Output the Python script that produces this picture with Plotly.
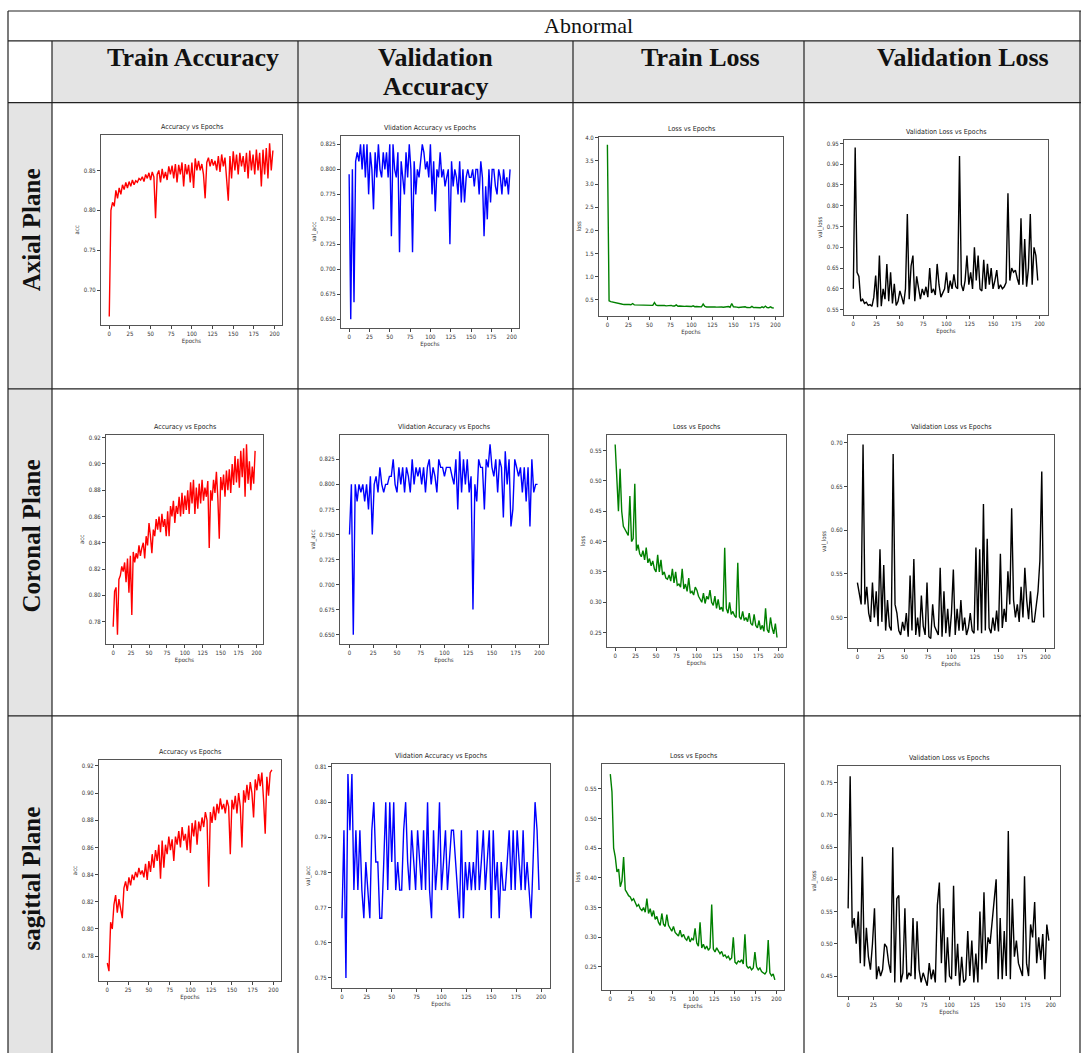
import plotly.graph_objects as go

W, H = 1081, 1053

epochs = list(range(0, 200, 2))

# ---------------- data ----------------
axial_train_acc = [
    0.667, 0.800, 0.810, 0.805, 0.825, 0.815, 0.828, 0.820, 0.832, 0.826,
    0.835, 0.828, 0.836, 0.830, 0.838, 0.832, 0.837, 0.835, 0.840, 0.838,
    0.842, 0.836, 0.845, 0.840, 0.847, 0.838, 0.848, 0.842, 0.790, 0.845,
    0.850, 0.835, 0.852, 0.840, 0.848, 0.838, 0.855, 0.845, 0.856, 0.840,
    0.858, 0.835, 0.857, 0.845, 0.860, 0.830, 0.858, 0.845, 0.857, 0.835,
    0.860, 0.828, 0.865, 0.850, 0.862, 0.850, 0.858, 0.845, 0.815, 0.860,
    0.866, 0.855, 0.864, 0.856, 0.862, 0.850, 0.868, 0.848, 0.870, 0.855,
    0.866, 0.840, 0.812, 0.868, 0.840, 0.874, 0.850, 0.870, 0.845, 0.872,
    0.855, 0.868, 0.848, 0.872, 0.840, 0.875, 0.850, 0.870, 0.845, 0.876,
    0.850, 0.872, 0.830, 0.876, 0.845, 0.878, 0.840, 0.884, 0.850, 0.875,
]
axial_val_acc = [
    0.795, 0.650, 0.800, 0.667, 0.808, 0.817, 0.808, 0.825, 0.800, 0.825,
    0.792, 0.825, 0.775, 0.817, 0.800, 0.760, 0.817, 0.792, 0.825, 0.800,
    0.792, 0.817, 0.800, 0.817, 0.792, 0.825, 0.733, 0.825, 0.800, 0.792,
    0.817, 0.717, 0.808, 0.792, 0.775, 0.817, 0.792, 0.825, 0.800, 0.717,
    0.808, 0.775, 0.800, 0.792, 0.808, 0.825, 0.817, 0.800, 0.808, 0.792,
    0.825, 0.775, 0.808, 0.758, 0.800, 0.792, 0.817, 0.792, 0.800, 0.783,
    0.792, 0.800, 0.725, 0.808, 0.783, 0.800, 0.792, 0.775, 0.808, 0.767,
    0.800, 0.767, 0.792, 0.800, 0.792, 0.792, 0.800, 0.783, 0.800, 0.800,
    0.775, 0.808, 0.792, 0.733, 0.783, 0.750, 0.800, 0.767, 0.800, 0.800,
    0.783, 0.775, 0.800, 0.792, 0.775, 0.800, 0.783, 0.792, 0.775, 0.800,
]
axial_train_loss = [
    3.850, 0.480, 0.460, 0.450, 0.440, 0.430, 0.425, 0.415, 0.410, 0.405,
    0.400, 0.405, 0.398, 0.400, 0.395, 0.420, 0.392, 0.390, 0.388, 0.386,
    0.385, 0.384, 0.383, 0.384, 0.382, 0.380, 0.385, 0.380, 0.440, 0.385,
    0.378, 0.380, 0.375, 0.372, 0.378, 0.370, 0.376, 0.368, 0.380, 0.366,
    0.368, 0.390, 0.362, 0.366, 0.360, 0.368, 0.358, 0.362, 0.356, 0.360,
    0.355, 0.372, 0.352, 0.356, 0.350, 0.354, 0.348, 0.410, 0.360, 0.346,
    0.348, 0.345, 0.350, 0.344, 0.346, 0.342, 0.348, 0.341, 0.344, 0.340,
    0.342, 0.339, 0.355, 0.340, 0.420, 0.350, 0.338, 0.342, 0.336, 0.340,
    0.335, 0.338, 0.350, 0.334, 0.336, 0.332, 0.360, 0.333, 0.335, 0.330,
    0.334, 0.329, 0.350, 0.330, 0.365, 0.332, 0.328, 0.350, 0.330, 0.325,
]
axial_val_loss = [
    0.600, 0.940, 0.640, 0.630, 0.570, 0.575, 0.565, 0.568, 0.560, 0.562,
    0.558, 0.580, 0.632, 0.556, 0.680, 0.558, 0.600, 0.575, 0.660, 0.570,
    0.640, 0.565, 0.612, 0.560, 0.570, 0.595, 0.580, 0.563, 0.600, 0.780,
    0.575, 0.655, 0.680, 0.570, 0.630, 0.600, 0.575, 0.600, 0.585, 0.605,
    0.580, 0.650, 0.590, 0.600, 0.585, 0.660, 0.610, 0.580, 0.590, 0.600,
    0.640, 0.590, 0.620, 0.600, 0.635, 0.605, 0.600, 0.920, 0.610, 0.595,
    0.620, 0.680, 0.610, 0.640, 0.600, 0.700, 0.620, 0.680, 0.600, 0.595,
    0.670, 0.600, 0.660, 0.610, 0.650, 0.600, 0.620, 0.645, 0.600, 0.610,
    0.600, 0.605, 0.615, 0.830, 0.620, 0.650, 0.640, 0.645, 0.625, 0.610,
    0.770, 0.610, 0.720, 0.605, 0.650, 0.780, 0.610, 0.700, 0.680, 0.620,
]
coronal_train_acc = [
    0.776, 0.803, 0.806, 0.770, 0.812, 0.815, 0.822, 0.818, 0.825, 0.810,
    0.828, 0.802, 0.830, 0.785, 0.833, 0.825, 0.832, 0.828, 0.838, 0.830,
    0.836, 0.840, 0.828, 0.845, 0.838, 0.855, 0.845, 0.832, 0.850, 0.845,
    0.858, 0.850, 0.860, 0.848, 0.862, 0.852, 0.858, 0.845, 0.864, 0.845,
    0.868, 0.860, 0.872, 0.855, 0.868, 0.862, 0.875, 0.860, 0.878, 0.862,
    0.876, 0.865, 0.880, 0.862, 0.886, 0.870, 0.888, 0.862, 0.882, 0.866,
    0.885, 0.870, 0.888, 0.872, 0.882, 0.875, 0.887, 0.836, 0.880, 0.872,
    0.888, 0.878, 0.894, 0.874, 0.843, 0.890, 0.880, 0.892, 0.875, 0.895,
    0.880, 0.896, 0.878, 0.900, 0.884, 0.906, 0.886, 0.904, 0.882, 0.910,
    0.890, 0.912, 0.875, 0.915, 0.885, 0.902, 0.880, 0.898, 0.885, 0.910,
]
coronal_val_acc = [
    0.750, 0.800, 0.650, 0.800, 0.783, 0.800, 0.792, 0.800, 0.783, 0.800,
    0.775, 0.808, 0.750, 0.800, 0.808, 0.792, 0.817, 0.800, 0.792, 0.800,
    0.800, 0.808, 0.808, 0.825, 0.800, 0.792, 0.817, 0.800, 0.817, 0.792,
    0.817, 0.808, 0.792, 0.825, 0.800, 0.817, 0.808, 0.817, 0.800, 0.817,
    0.792, 0.817, 0.825, 0.800, 0.817, 0.808, 0.792, 0.825, 0.817, 0.817,
    0.808, 0.817, 0.817, 0.817, 0.808, 0.800, 0.825, 0.775, 0.833, 0.792,
    0.825, 0.800, 0.825, 0.792, 0.808, 0.675, 0.800, 0.783, 0.825, 0.817,
    0.817, 0.775, 0.825, 0.817, 0.840, 0.817, 0.808, 0.825, 0.792, 0.825,
    0.817, 0.767, 0.833, 0.800, 0.825, 0.758, 0.775, 0.825, 0.817, 0.808,
    0.817, 0.792, 0.817, 0.783, 0.817, 0.758, 0.825, 0.792, 0.800, 0.800,
]
coronal_train_loss = [
    0.560, 0.500, 0.450, 0.520, 0.450, 0.425, 0.420, 0.415, 0.410, 0.475,
    0.400, 0.405, 0.495, 0.385, 0.395, 0.380, 0.375, 0.385, 0.370, 0.390,
    0.365, 0.372, 0.360, 0.368, 0.355, 0.350, 0.378, 0.350, 0.370, 0.345,
    0.350, 0.340, 0.338, 0.345, 0.335, 0.355, 0.332, 0.350, 0.328, 0.330,
    0.325, 0.355, 0.322, 0.330, 0.318, 0.340, 0.315, 0.318, 0.312, 0.325,
    0.320, 0.310, 0.305, 0.300, 0.315, 0.298, 0.310, 0.305, 0.320, 0.300,
    0.295, 0.310, 0.290, 0.305, 0.288, 0.292, 0.285, 0.390, 0.290, 0.282,
    0.300, 0.280, 0.285, 0.278, 0.275, 0.365, 0.276, 0.272, 0.285, 0.270,
    0.275, 0.268, 0.282, 0.265, 0.262, 0.280, 0.262, 0.258, 0.270, 0.255,
    0.262, 0.252, 0.290, 0.255, 0.250, 0.275, 0.258, 0.248, 0.265, 0.242,
]
coronal_val_loss = [
    0.540, 0.525, 0.515, 0.698, 0.515, 0.535, 0.505, 0.495, 0.540, 0.500,
    0.530, 0.490, 0.578, 0.495, 0.560, 0.485, 0.520, 0.490, 0.485, 0.687,
    0.515, 0.505, 0.485, 0.480, 0.495, 0.485, 0.505, 0.478, 0.548, 0.485,
    0.567, 0.480, 0.500, 0.478, 0.525, 0.490, 0.480, 0.540, 0.478, 0.476,
    0.515, 0.490, 0.485, 0.480, 0.557, 0.478, 0.530, 0.482, 0.510, 0.478,
    0.505, 0.555, 0.480, 0.510, 0.485, 0.520, 0.485, 0.500, 0.480, 0.488,
    0.505, 0.485, 0.482, 0.580, 0.485, 0.578, 0.482, 0.630, 0.485, 0.590,
    0.488, 0.482, 0.500, 0.485, 0.508, 0.484, 0.573, 0.488, 0.510, 0.495,
    0.553, 0.515, 0.625, 0.520, 0.500, 0.515, 0.495, 0.535, 0.500, 0.557,
    0.520, 0.498, 0.530, 0.495, 0.495, 0.510, 0.530, 0.565, 0.667, 0.500,
]
sagittal_train_acc = [
    0.775, 0.769, 0.805, 0.800, 0.818, 0.825, 0.812, 0.822, 0.815, 0.808,
    0.830, 0.835, 0.828, 0.838, 0.832, 0.840, 0.836, 0.842, 0.838, 0.845,
    0.840, 0.843, 0.838, 0.848, 0.836, 0.850, 0.842, 0.855, 0.845, 0.858,
    0.850, 0.862, 0.837, 0.865, 0.845, 0.862, 0.855, 0.868, 0.858, 0.866,
    0.850, 0.868, 0.862, 0.872, 0.860, 0.875, 0.865, 0.870, 0.858, 0.876,
    0.856, 0.878, 0.868, 0.880, 0.862, 0.879, 0.872, 0.882, 0.875, 0.886,
    0.880, 0.831, 0.886, 0.878, 0.890, 0.880, 0.892, 0.885, 0.896, 0.888,
    0.892, 0.885, 0.895, 0.890, 0.855, 0.895, 0.888, 0.898, 0.885, 0.900,
    0.890, 0.860, 0.902, 0.893, 0.906, 0.895, 0.908, 0.900, 0.882, 0.910,
    0.902, 0.914, 0.905, 0.915, 0.895, 0.870, 0.912, 0.898, 0.915, 0.917,
]
sagittal_val_acc = [
    0.767, 0.792, 0.750, 0.808, 0.792, 0.808, 0.775, 0.792, 0.775, 0.792,
    0.775, 0.767, 0.783, 0.775, 0.767, 0.792, 0.800, 0.783, 0.783, 0.767,
    0.767, 0.783, 0.800, 0.775, 0.800, 0.783, 0.800, 0.775, 0.783, 0.775,
    0.775, 0.792, 0.800, 0.783, 0.775, 0.792, 0.783, 0.775, 0.792, 0.783,
    0.775, 0.792, 0.775, 0.800, 0.775, 0.767, 0.792, 0.775, 0.783, 0.800,
    0.775, 0.783, 0.792, 0.775, 0.783, 0.792, 0.792, 0.783, 0.775, 0.767,
    0.792, 0.767, 0.783, 0.775, 0.783, 0.775, 0.783, 0.775, 0.792, 0.775,
    0.783, 0.792, 0.775, 0.783, 0.792, 0.767, 0.792, 0.775, 0.783, 0.767,
    0.783, 0.775, 0.775, 0.783, 0.792, 0.775, 0.792, 0.775, 0.792, 0.783,
    0.775, 0.792, 0.775, 0.783, 0.775, 0.767, 0.783, 0.800, 0.792, 0.775,
]
sagittal_train_loss = [
    0.575, 0.545, 0.450, 0.435, 0.410, 0.415, 0.385, 0.395, 0.435, 0.380,
    0.375, 0.370, 0.368, 0.362, 0.365, 0.358, 0.352, 0.355, 0.348, 0.345,
    0.350, 0.342, 0.365, 0.340, 0.348, 0.335, 0.345, 0.330, 0.335, 0.325,
    0.320, 0.340, 0.322, 0.318, 0.338, 0.320, 0.315, 0.310, 0.318, 0.308,
    0.305, 0.302, 0.312, 0.300, 0.305, 0.298, 0.295, 0.302, 0.292, 0.298,
    0.295, 0.315, 0.290, 0.285, 0.325, 0.282, 0.288, 0.280, 0.285, 0.278,
    0.282, 0.355, 0.280, 0.275, 0.282, 0.278, 0.272, 0.276, 0.268, 0.270,
    0.265, 0.268, 0.262, 0.265, 0.300, 0.258, 0.255, 0.260, 0.258, 0.262,
    0.255, 0.305, 0.252, 0.248, 0.250, 0.245, 0.248, 0.275, 0.250, 0.245,
    0.248, 0.242, 0.240, 0.238, 0.242, 0.295, 0.240, 0.235, 0.238, 0.228,
]
sagittal_val_loss = [
    0.555, 0.760, 0.525, 0.540, 0.500, 0.550, 0.470, 0.635, 0.465, 0.525,
    0.480, 0.460, 0.500, 0.555, 0.445, 0.465, 0.450, 0.460, 0.500, 0.495,
    0.470, 0.455, 0.650, 0.440, 0.570, 0.575, 0.440, 0.455, 0.555, 0.445,
    0.455, 0.450, 0.540, 0.445, 0.535, 0.460, 0.440, 0.455, 0.445, 0.435,
    0.470, 0.445, 0.460, 0.440, 0.560, 0.595, 0.470, 0.555, 0.440, 0.510,
    0.450, 0.445, 0.590, 0.450, 0.500, 0.435, 0.480, 0.440, 0.445, 0.520,
    0.450, 0.505, 0.440, 0.485, 0.440, 0.550, 0.460, 0.580, 0.470, 0.510,
    0.500, 0.535, 0.560, 0.600, 0.445, 0.540, 0.445, 0.520, 0.450, 0.675,
    0.445, 0.570, 0.480, 0.505, 0.470, 0.460, 0.450, 0.605, 0.470, 0.450,
    0.530, 0.510, 0.565, 0.470, 0.510, 0.475, 0.515, 0.445, 0.530, 0.505,
]

col_headers = [["Train Accuracy"], ["Validation", "Accuracy"], ["Train Loss"], ["Validation Loss"]]
row_headers = ["Axial Plane", "Coronal Plane", "sagittal Plane"]
top_header = "Abnormal"
plot_titles = ["Accuracy vs Epochs", "Vlidation Accuracy vs Epochs",
               "Loss vs Epochs", "Validation Loss vs Epochs"]
y_labels = ["acc", "val_acc", "loss", "val_loss"]
x_label = "Epochs"

series = [
    [axial_train_acc, axial_val_acc, axial_train_loss, axial_val_loss],
    [coronal_train_acc, coronal_val_acc, coronal_train_loss, coronal_val_loss],
    [sagittal_train_acc, sagittal_val_acc, sagittal_train_loss, sagittal_val_loss],
]

# ---------------- layout / style ----------------
colors = ["#ff0000", "#0000ff", "#008000", "#000000"]
# plot boxes in pixels: (left, top, right, bottom)
boxes = [
    [(101, 132, 282, 323), (341, 133, 519, 326), (599, 134, 783, 314), (844, 137, 1048, 313)],
    [(106, 433, 263, 643), (340, 433, 548, 643), (607, 433, 786, 646), (848, 433, 1054, 647)],
    [(99, 759, 281, 981), (332, 763, 550, 988), (602, 763, 784, 990), (838, 765, 1060, 996)],
]
dticks = [
    [0.05, 0.025, 0.5, 0.05],
    [0.02, 0.025, 0.05, 0.05],
    [0.02, 0.01, 0.05, 0.05],
]
fmts = [
    [".2f", ".3f", ".1f", ".2f"],
    [".2f", ".3f", ".2f", ".2f"],
    [".2f", ".2f", ".2f", ".2f"],
]

SMALL = "DejaVu Sans Condensed, Liberation Sans Narrow, DejaVu Sans, sans-serif"
SERIF = "Liberation Serif, Times New Roman, serif"

fig = go.Figure()
layout = dict(
    width=W, height=H, margin=dict(l=0, r=0, t=0, b=0),
    paper_bgcolor="white", plot_bgcolor="white", showlegend=False,
)
annotations = []
shapes = []

def px(x):
    return x / W

def py(y):
    return 1 - y / H

k = 0
for r in range(3):
    for c in range(4):
        k += 1
        vals = series[r][c]
        xs = epochs[:len(vals)]
        l, t, rr, b = boxes[r][c]
        xa = "x" if k == 1 else f"x{k}"
        ya = "y" if k == 1 else f"y{k}"
        fig.add_trace(go.Scatter(x=xs, y=vals, mode="lines",
                                 line=dict(color=colors[c], width=1.4),
                                 xaxis=xa, yaxis=ya, hoverinfo="skip"))
        lo, hi = min(vals), max(vals)
        pad = 0.05 * (hi - lo)
        axis_common = dict(showline=True, mirror=True, linecolor="#555555", linewidth=1,
                           showgrid=False, zeroline=False, ticks="outside", ticklen=3,
                           tickwidth=0.8, tickcolor="#444444",
                           tickfont=dict(family=SMALL, size=6, color="#333333"))
        layout["xaxis" if k == 1 else f"xaxis{k}"] = dict(
            domain=[px(l), px(rr)], anchor=ya, range=[-10, 209],
            tick0=0, dtick=25,
            title=dict(text=x_label, font=dict(family=SMALL, size=6, color="#333333"), standoff=2),
            **axis_common)
        layout["yaxis" if k == 1 else f"yaxis{k}"] = dict(
            domain=[py(b), py(t)], anchor=xa, range=[lo - pad, hi + pad],
            tick0=0, dtick=dticks[r][c], tickformat=fmts[r][c],
            title=dict(text=y_labels[c], font=dict(family=SMALL, size=6, color="#333333"), standoff=3),
            **axis_common)
        annotations.append(dict(x=px((l + rr) / 2), y=py(t - 2), xref="paper", yref="paper",
                                text=plot_titles[c], showarrow=False,
                                xanchor="center", yanchor="bottom",
                                font=dict(family=SMALL, size=7, color="#222222")))

# ---------------- table ----------------
GRAY = "#e4e4e4"
shapes.append(dict(type="rect", xref="paper", yref="paper", x0=px(52), x1=px(1081),
                   y0=py(100), y1=py(38), fillcolor=GRAY, line=dict(width=0), layer="below"))
shapes.append(dict(type="rect", xref="paper", yref="paper", x0=px(8), x1=px(52),
                   y0=py(1053), y1=py(100), fillcolor=GRAY, line=dict(width=0), layer="below"))

def hline(y, x0=8, x1=1081):
    shapes.append(dict(type="line", xref="paper", yref="paper", x0=px(x0), x1=px(x1),
                       y0=py(y), y1=py(y), line=dict(color="#222222", width=1.2)))

def vline(x, y0=38, y1=1053):
    shapes.append(dict(type="line", xref="paper", yref="paper", x0=px(x), x1=px(x),
                       y0=py(y0), y1=py(y1), line=dict(color="#222222", width=1.2)))

for y in [8, 38, 100, 387, 715]:
    hline(y)
vline(8, 8, 1053)
vline(1080, 8, 1053)
for x in [52, 298, 573, 804]:
    vline(x)

annotations.append(dict(x=px(589), y=py(23), xref="paper", yref="paper", text=top_header,
                        showarrow=False, xanchor="center", yanchor="middle",
                        font=dict(family=SERIF, size=22, color="#111111")))
col_centers = [193, 435, 700, 963]
line_ys = [55, 84]
for cx, lines in zip(col_centers, col_headers):
    for ly, txt in zip(line_ys, lines):
        annotations.append(dict(x=px(cx), y=py(ly), xref="paper", yref="paper",
                                text=f"<b>{txt}</b>", showarrow=False,
                                xanchor="center", yanchor="middle",
                                font=dict(family=SERIF, size=26, color="#111111")))
row_centers = [228, 535, 878]
for cy, txt in zip(row_centers, row_headers):
    annotations.append(dict(x=px(31), y=py(cy), xref="paper", yref="paper",
                            text=f"<b>{txt}</b>", showarrow=False, textangle=-90,
                            xanchor="center", yanchor="middle",
                            font=dict(family=SERIF, size=25, color="#111111")))

layout["annotations"] = annotations
layout["shapes"] = shapes
fig.update_layout(**layout)
fig.write_html("out.html")
